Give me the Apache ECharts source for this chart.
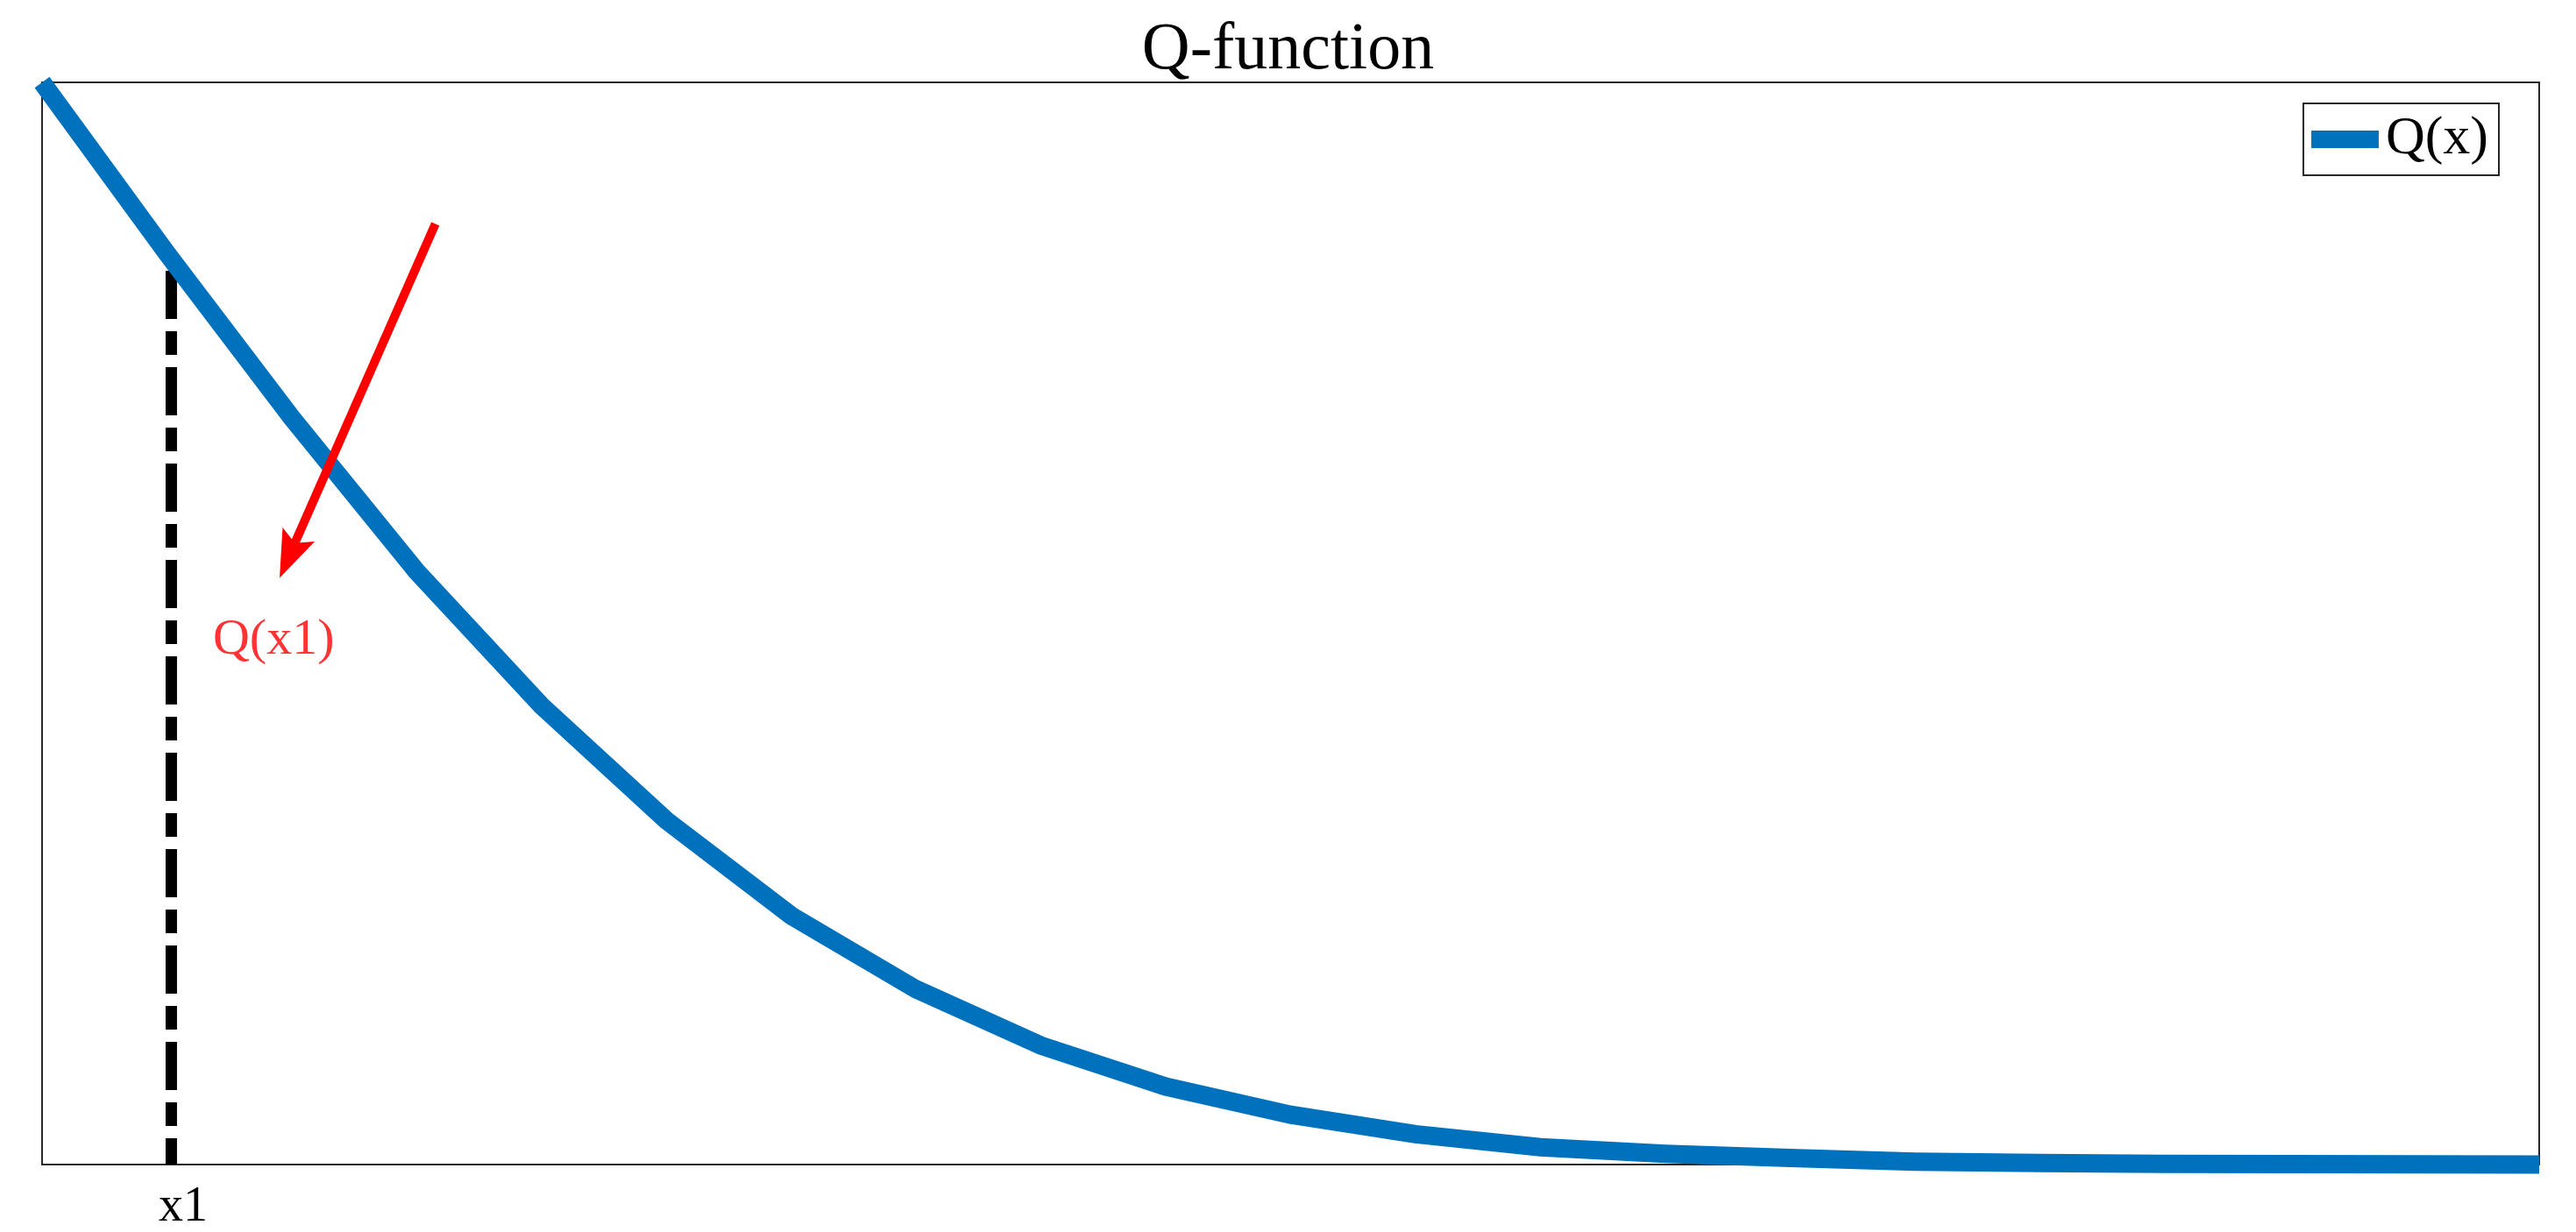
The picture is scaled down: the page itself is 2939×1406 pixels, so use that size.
<!DOCTYPE html>
<html>
<head>
<meta charset="utf-8">
<script src="https://cdn.jsdelivr.net/npm/echarts@6/dist/echarts.min.js"></script>
<style>html,body{margin:0;padding:0;background:#fff;}#c{width:2939px;height:1406px;}</style>
</head>
<body>
<div id="c"></div>
<script>
// ---- data ----
const xValues = [0, 0.2, 0.4, 0.6, 0.8, 1.0, 1.2, 1.4, 1.6, 1.8, 2.0, 2.2, 2.4, 2.6, 2.8, 3.0, 3.2, 3.4, 3.6, 3.8, 4.0];
const qValues = [0.5, 0.421, 0.345, 0.274, 0.212, 0.159, 0.115, 0.081, 0.055, 0.036, 0.023, 0.014, 0.008, 0.005, 0.003, 0.0013, 0.0007, 0.0003, 0.0002, 0.0001, 0.00003];
const seriesName = 'Q(x)';
const titleText = 'Q-function';
const xTickValues = [0.2];
const xTickLabels = ['x1'];
const x1LineX = [0.207, 0.207];
const x1LineY = [0.413, 0];
const arrowStart = [0.630, 0.4346];
const arrowTip = [0.3805, 0.2711];
const annotText = 'Q(x1)';
const annotPos = [0.371, 0.2422];

const font = '"Liberation Serif", "Times New Roman", serif';
const curve = xValues.map((x, i) => [x, qValues[i]]);
const x1Line = x1LineX.map((x, i) => [x, x1LineY[i]]);

function renderArrow(params, api) {
  const p0 = api.coord([api.value(0), api.value(1)]);
  const p1 = api.coord([api.value(2), api.value(3)]);
  const dx = p1[0] - p0[0], dy = p1[1] - p0[1];
  const len = Math.sqrt(dx * dx + dy * dy);
  const ux = dx / len, uy = dy / len;
  const nx = -uy, ny = ux;
  const L = 54, W = 20, notch = 0.8;
  const bx = p1[0] - L * ux, by = p1[1] - L * uy;
  const kx = p1[0] - notch * L * ux, ky = p1[1] - notch * L * uy;
  return {
    type: 'group',
    children: [
      {type: 'line', shape: {x1: p0[0], y1: p0[1], x2: kx, y2: ky},
       style: {stroke: '#ff0000', lineWidth: 10, lineCap: 'butt'}},
      {type: 'polygon', shape: {points: [[p1[0], p1[1]], [bx + W * nx, by + W * ny], [kx, ky], [bx - W * nx, by - W * ny]]},
       style: {fill: '#ff0000'}}
    ]
  };
}

const chart = echarts.init(document.getElementById('c'), null, {renderer: 'canvas'});
chart.setOption({
  backgroundColor: '#ffffff',
  animation: false,
  title: {
    text: titleText, left: 'center', top: 20, padding: 0,
    textStyle: {fontFamily: font, fontSize: 76, fontWeight: 'normal', color: '#000'}
  },
  legend: {
    data: [seriesName], right: 88, top: 118,
    orient: 'vertical',
    icon: 'rect', itemWidth: 77, itemHeight: 20, itemGap: 0,
    padding: [10, 12, 10, 9],
    borderColor: '#262626', borderWidth: 2, backgroundColor: '#fff',
    textStyle: {fontFamily: font, fontSize: 62, color: '#000', padding: [0, 0, 0, 3]}
  },
  grid: {left: 48, right: 42, top: 94, bottom: 65, show: true, borderColor: '#262626', borderWidth: 2, backgroundColor: 'transparent'},
  xAxis: {
    type: 'value', min: 0, max: 4, interval: 0.2,
    axisLine: {show: false}, axisTick: {show: false}, splitLine: {show: false},
    axisLabel: {
      show: true, margin: 21, color: '#000', fontFamily: font, fontSize: 56,
      padding: [0, 0, 0, 37],
      formatter: function (v) {
        for (let i = 0; i < xTickValues.length; i++) {
          if (Math.abs(v - xTickValues[i]) < 1e-9) return xTickLabels[i];
        }
        return '';
      }
    }
  },
  yAxis: {
    type: 'value', min: 0, max: 0.5,
    axisLine: {show: false}, axisTick: {show: false}, splitLine: {show: false}, axisLabel: {show: false}
  },
  series: [
    {
      name: seriesName, type: 'line', data: curve, clip: false,
      symbol: 'none', lineStyle: {color: '#0072BD', width: 21, join: 'miter'},
      itemStyle: {color: '#0072BD'}, z: 3
    },
    {
      name: 'x1line', type: 'line', data: x1Line, clip: false, symbol: 'none',
      lineStyle: {color: '#000', width: 13, type: [55, 14, 27, 14], cap: 'butt'}, z: 2
    },
    {
      name: 'arrow', type: 'custom', z: 4, clip: false, silent: true,
      renderItem: renderArrow,
      data: [[arrowStart[0], arrowStart[1], arrowTip[0], arrowTip[1]]]
    },
    {
      name: 'annot', type: 'scatter', data: [annotPos], symbolSize: 1, z: 5,
      itemStyle: {color: 'rgba(0,0,0,0)'},
      label: {show: true, position: 'inside', formatter: annotText, color: '#ff0000', fontFamily: font, fontSize: 58, align: 'center', verticalAlign: 'middle'}
    }
  ]
});
</script>
</body>
</html>
